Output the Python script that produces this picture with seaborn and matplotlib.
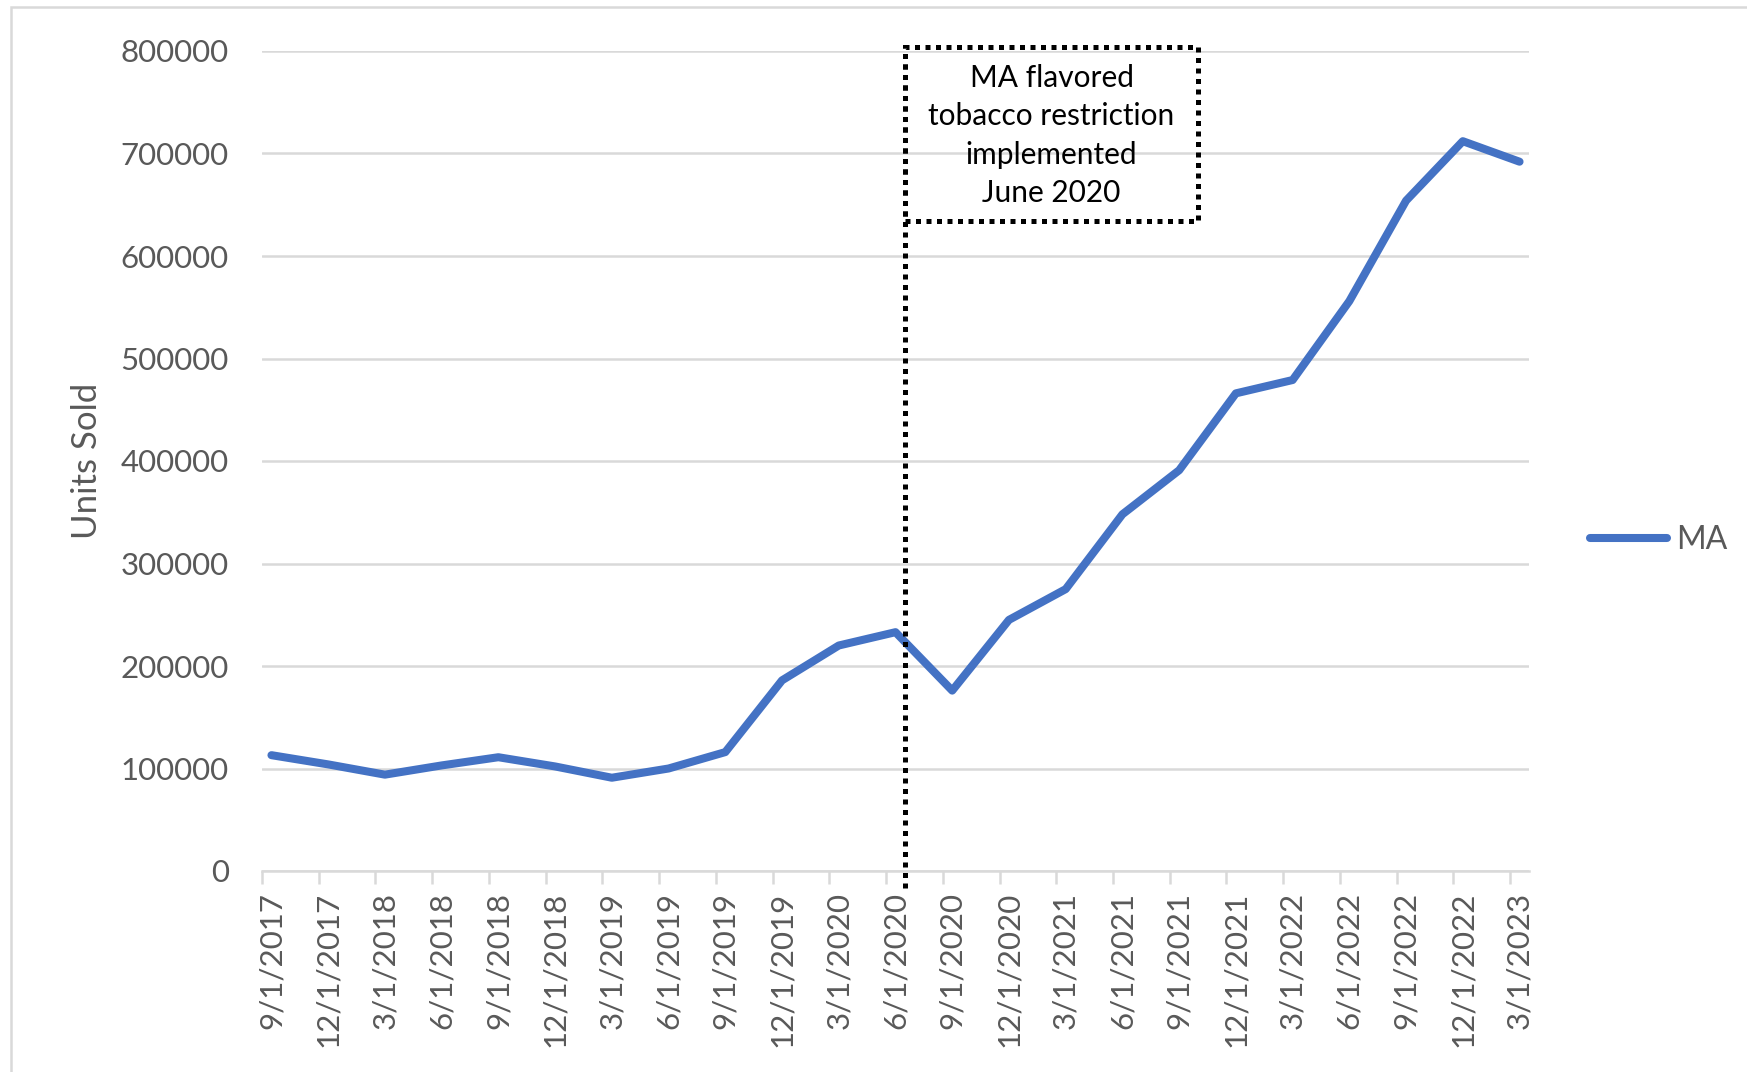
import numpy as np
import pandas as pd
import matplotlib
matplotlib.use("Agg")
import matplotlib.pyplot as plt
import seaborn as sns
from matplotlib.patches import Rectangle

# Quarterly sales of flavored tobacco units in Massachusetts
dates = ["9/1/2017", "12/1/2017", "3/1/2018", "6/1/2018", "9/1/2018", "12/1/2018",
         "3/1/2019", "6/1/2019", "9/1/2019", "12/1/2019", "3/1/2020", "6/1/2020",
         "9/1/2020", "12/1/2020", "3/1/2021", "6/1/2021", "9/1/2021", "12/1/2021",
         "3/1/2022", "6/1/2022", "9/1/2022", "12/1/2022", "3/1/2023"]
units_sold = [113000, 104000, 94000, 103000, 111000, 102000,
              91000, 100000, 116000, 186000, 220000, 233000,
              176000, 245000, 275000, 348000, 391000, 466000,
              479000, 556000, 654000, 712000, 692000]
y_ticks = [0, 100000, 200000, 300000, 400000, 500000, 600000, 700000, 800000]
series_name = "MA"
restriction_date = "6/1/2020"
note_text = "MA flavored\ntobacco restriction\nimplemented\nJune 2020"

sns.set_theme(style="white")
plt.rcParams["font.family"] = ["Lato", "DejaVu Sans"]

GRID = "#d9d9d9"
TEXT = "#595959"
BLUE = "#4472C4"

df = pd.DataFrame({"date": pd.to_datetime(dates, format="%m/%d/%Y"), "units": units_sold})
start = df["date"].iloc[0]
df["month"] = (df["date"].dt.year - start.year) * 12 + (df["date"].dt.month - start.month)
df["pos"] = df["month"] + 0.5   # points sit in the middle of their month

W, H = 1747, 1072
fig = plt.figure(figsize=(W / 100, H / 100), dpi=100)
ax = fig.add_axes([262 / W, 1 - 871 / H, (1529 - 262) / W, (871 - 51) / H])

sns.lineplot(data=df, x="pos", y="units", ax=ax, color=BLUE, lw=5.8,
             label=series_name, solid_capstyle="round", solid_joinstyle="round")

ax.set_xlim(0, df["month"].iloc[-1] + 1)
ax.set_ylim(y_ticks[0], y_ticks[-1])
ax.set_yticks(y_ticks)
ax.yaxis.set_major_formatter(lambda v, p: f"{int(v)}")
ax.grid(axis="y", color=GRID, lw=1.8)
ax.grid(axis="x", visible=False)
ax.set_axisbelow(True)
for s in ["left", "right", "top"]:
    ax.spines[s].set_visible(False)
ax.spines["bottom"].set_color(GRID)
ax.spines["bottom"].set_linewidth(1.8)

ax.set_xticks(df["pos"])
ax.set_xticklabels(dates, rotation=90)
ax.set_xticks(df["month"], minor=True)
ax.tick_params(axis="x", which="major", length=0, pad=15, labelsize=22.5, labelcolor=TEXT)
ax.tick_params(axis="x", which="minor", bottom=True, length=9, width=1.8, color=GRID)
ax.tick_params(axis="y", length=0, pad=24, labelsize=22.5, labelcolor=TEXT)

ax.set_xlabel("")
ax.set_ylabel("Units Sold", fontsize=25, color=TEXT, va="center")
ax.yaxis.set_label_coords((87 - 262) / (1529 - 262), 0.5)

# Policy marker: dotted vertical line at the end of June 2020 plus a dotted note box
r_month = df.loc[df["date"] == pd.to_datetime(restriction_date, format="%m/%d/%Y"), "month"].iloc[0]
x_line = r_month + 1
box_w = 15.5
box_bottom, box_top = 634000, 804000
dotted = (0, (1, 1.1))
ax.plot([x_line, x_line], [-16600, box_top], color="black", lw=3.6,
        linestyle=dotted, dash_capstyle="butt", clip_on=False, zorder=5)
ax.add_patch(Rectangle((x_line, box_bottom), box_w, box_top - box_bottom, fill=False,
                       edgecolor="black", lw=3.6, linestyle=dotted, clip_on=False, zorder=5))
ax.text(x_line + box_w / 2, 717500, note_text, ha="center", va="center",
        fontsize=21.5, linespacing=1.45, color="black", zorder=6)

leg = ax.legend(loc="center left", bbox_to_anchor=(1590 / W, 1 - 540 / H),
                bbox_transform=fig.transFigure, frameon=False, fontsize=23,
                handlelength=2.4, handletextpad=0.3, borderpad=0, borderaxespad=0)
for t in leg.get_texts():
    t.set_color(TEXT)
for ln in leg.get_lines():
    ln.set_solid_capstyle("round")
    ln.set_linewidth(5.8)

# Chart-area border
fig.patches.append(Rectangle((11 / W, -0.1), 1.2, 1.1 - 7 / H, transform=fig.transFigure,
                             fill=False, edgecolor=GRID, lw=1.8))

fig.savefig("out.png", dpi=100)
